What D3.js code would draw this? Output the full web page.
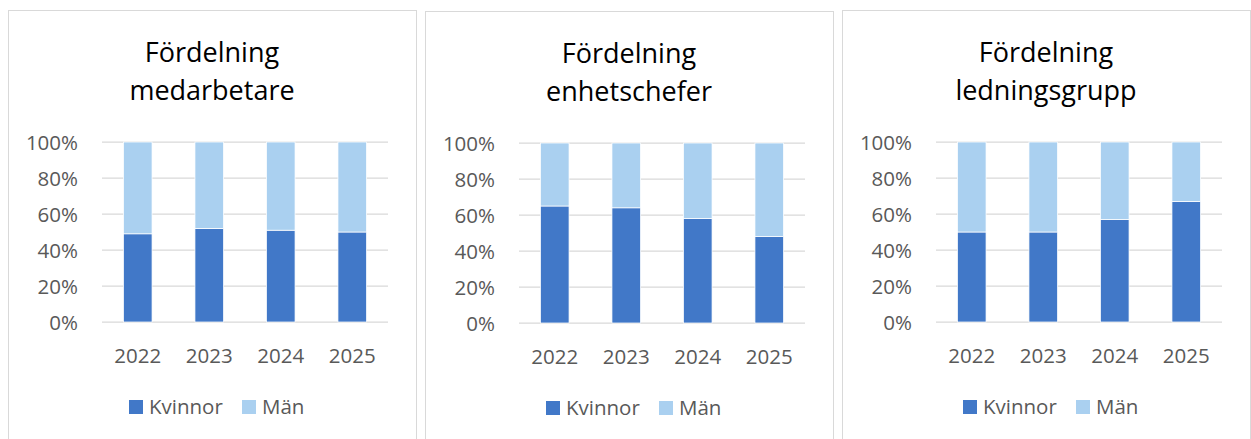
<!DOCTYPE html>
<html>
<head>
<meta charset="utf-8">
<script src="https://cdn.jsdelivr.net/npm/d3@7"></script>
<style>
  body { margin: 0; background: #fff; }
  text { font-family: "Open Sans", sans-serif; }
</style>
</head>
<body>
<div id="chart-area"></div>
<script>
// data
var years = ["2022", "2023", "2024", "2025"];
var seriesNames = ["Kvinnor", "Män"];
var yTicks = [0, 0.2, 0.4, 0.6, 0.8, 1];

var titleMedarbetare = ["Fördelning", "medarbetare"];
var kvinnorMedarbetare = [49, 52, 51, 50];
var manMedarbetare = [51, 48, 49, 50];

var titleEnhetschefer = ["Fördelning", "enhetschefer"];
var kvinnorEnhetschefer = [65, 64, 58, 48];
var manEnhetschefer = [35, 36, 42, 52];

var titleLedning = ["Fördelning", "ledningsgrupp"];
var kvinnorLedning = [50, 50, 57, 67];
var manLedning = [50, 50, 43, 33];

var charts = [
	{ title: titleMedarbetare, kvinnor: kvinnorMedarbetare, man: manMedarbetare },
	{ title: titleEnhetschefer, kvinnor: kvinnorEnhetschefer, man: manEnhetschefer },
	{ title: titleLedning, kvinnor: kvinnorLedning, man: manLedning }
];

var colors = { "Kvinnor": "#4178c8", "Män": "#aad0f0" };

var panelLeft = [8, 425, 842];
var panelTop = [10, 11, 10];
var panelW = 408;

var svg = d3.select("#chart-area").append("svg")
	.attr("width", 1251)
	.attr("height", 439);

charts.forEach(function (c, i) {
	var g = svg.append("g")
		.attr("transform", "translate(" + panelLeft[i] + "," + panelTop[i] + ")");

	// panel border
	g.append("rect")
		.attr("x", 0.5).attr("y", 0.5)
		.attr("width", panelW).attr("height", 460)
		.attr("fill", "#fff")
		.attr("stroke", "#d9d9d9")
		.attr("stroke-width", 1);

	// title
	var title = g.append("text")
		.attr("x", panelW / 2)
		.attr("text-anchor", "middle")
		.attr("font-size", "27px")
		.attr("fill", "#000");
	title.selectAll("tspan").data(c.title).enter().append("tspan")
		.attr("x", panelW / 2)
		.attr("y", function (d, j) { return 52 + j * 38; })
		.text(function (d) { return d; });

	var plot = g.append("g").attr("transform", "translate(94,132)");
	var pw = 286, ph = 180;

	var x = d3.scaleBand().domain(years).range([0, pw]).paddingInner(0.6).paddingOuter(0.3);
	var y = d3.scaleLinear().domain([0, 1]).range([ph, 0]);

	// gridlines
	plot.selectAll("line.grid").data(yTicks).enter().append("line")
		.attr("class", "grid")
		.attr("x1", 0).attr("x2", pw)
		.attr("y1", function (d) { return y(d); })
		.attr("y2", function (d) { return y(d); })
		.attr("stroke", "#d9d9d9")
		.attr("stroke-width", 1.25);

	// y axis labels
	var yAxis = d3.axisLeft(y).tickValues(yTicks).tickFormat(d3.format(".0%")).tickSize(0).tickPadding(24);
	var ya = plot.append("g").call(yAxis);
	ya.select(".domain").remove();
	ya.selectAll("text").attr("font-size", "20.5px").attr("fill", "#595959")
		.style("font-family", "'Open Sans', sans-serif").attr("dy", "0.36em");

	// x axis labels
	var xAxis = d3.axisBottom(x).tickSize(0).tickPadding(26);
	var xa = plot.append("g").attr("transform", "translate(0," + ph + ")").call(xAxis);
	xa.select(".domain").remove();
	xa.selectAll("text").attr("font-size", "20.5px").attr("fill", "#595959")
		.style("font-family", "'Open Sans', sans-serif");

	// stacked bars
	var rows = years.map(function (yr, j) {
		return { year: yr, "Kvinnor": c.kvinnor[j], "Män": c.man[j] };
	});
	var stacked = d3.stack().keys(seriesNames).offset(d3.stackOffsetExpand)(rows);

	plot.selectAll("g.series").data(stacked).enter().append("g")
		.attr("class", "series")
		.attr("fill", function (d) { return colors[d.key]; })
		.selectAll("rect").data(function (d) { return d; }).enter().append("rect")
		.attr("x", function (d) { return x(d.data.year); })
		.attr("width", x.bandwidth())
		.attr("y", function (d) { return y(d[1]); })
		.attr("height", function (d) { return y(d[0]) - y(d[1]); })
		.attr("stroke", "#fff")
		.attr("stroke-width", 0.75);

	// legend
	var legendX = [121, 234];
	var legend = g.selectAll("g.legend").data(seriesNames).enter().append("g")
		.attr("class", "legend")
		.attr("transform", function (d, j) { return "translate(" + legendX[j] + ",390)"; });
	legend.append("rect")
		.attr("width", 14).attr("height", 14)
		.attr("fill", function (d) { return colors[d]; });
	legend.append("text")
		.attr("x", 20).attr("y", 14)
		.attr("font-size", "20.5px")
		.attr("fill", "#595959")
		.text(function (d) { return d; });
});
</script>
</body>
</html>
